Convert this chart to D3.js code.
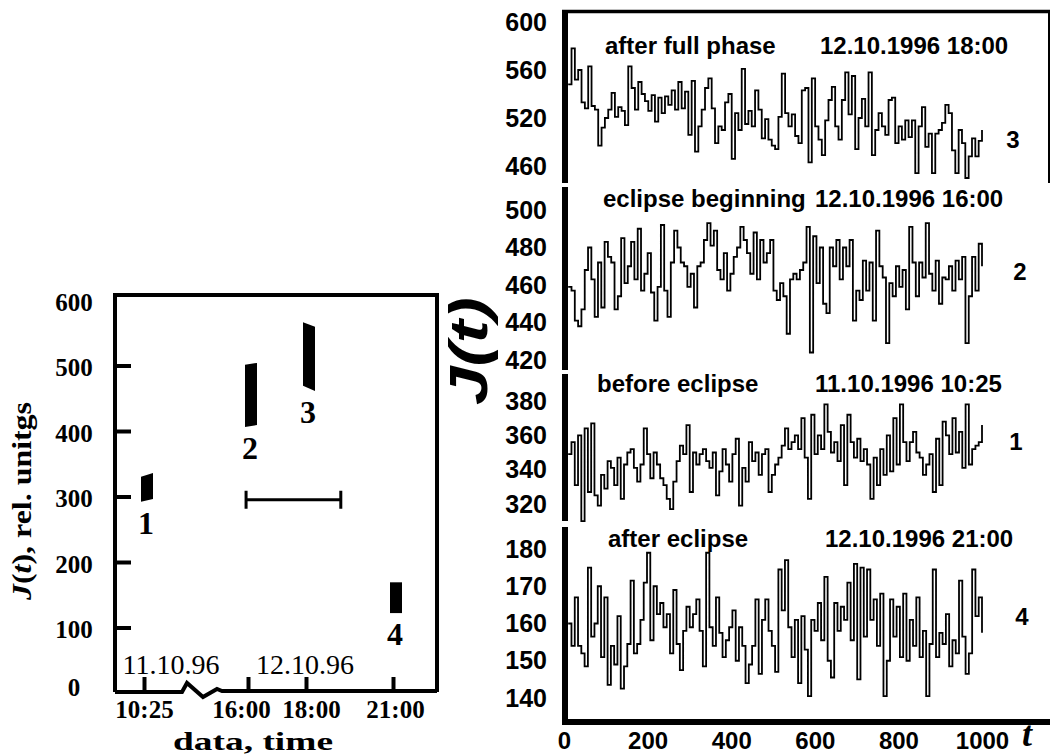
<!DOCTYPE html>
<html>
<head>
<meta charset="utf-8">
<script src="https://cdn.jsdelivr.net/npm/d3@7"></script>
<style>
  html, body { margin: 0; padding: 0; background: #fff; }
  svg { display: block; }
</style>
</head>
<body>
<svg id="chart" width="1050" height="756"></svg>
<script>
// ---- left panel: J(t) ranges per session ----
const summaryTimes = [10 + 25 / 60, 40, 42, 45];          // hours from 11.10.96 00:00
const summaryTickLabels = ['10:25', '16:00', '18:00', '21:00'];
const summaryYTicks = [0, 100, 200, 300, 400, 500, 600];
const dateLabels = ['11.10.96', '12.10.96'];
const barIds = ['1', '2', '3', '4'];
const barTimes = [10 + 25 / 60, 40, 42, 45];
const barLeftLow = [292, 406, 469, 122];
const barLeftHigh = [330, 501, 566, 169];
const barRightLow = [296, 409, 461, 122];
const barRightHigh = [336, 504, 559, 169];
const eclipseSpan = [39.45, 43.2];
const eclipseLevel = 295;

// ---- right panel: time series ----
const tTicks = [0, 200, 400, 600, 800, 1000];
const tRange = [10, 1000];

const series3 = [548,578,552,560,533,528,563,530,527,497,512,520,527,541,521,529,526,514,563,545,527,550,540,534,526,539,517,537,524,538,531,543,527,550,528,542,506,551,492,513,527,545,553,528,499,513,510,533,540,486,524,510,561,515,526,513,543,527,503,519,502,497,494,521,557,524,513,523,505,499,543,545,483,553,513,502,489,518,535,546,513,502,535,558,523,555,494,520,536,513,558,489,510,524,513,506,535,537,499,513,502,518,504,518,474,513,529,496,507,474,507,510,516,531,524,493,474,510,499,470,488,503,488,501,510];
const series2 = [459,457,441,438,447,468,480,463,443,472,448,483,475,472,447,454,485,461,470,483,463,490,457,466,477,456,441,459,492,457,443,472,489,480,472,470,459,466,448,470,472,484,493,481,489,468,463,477,457,466,475,480,491,484,477,466,488,463,484,472,477,484,457,452,461,454,434,463,466,463,468,472,491,424,486,461,480,450,445,480,470,484,463,480,470,484,441,457,452,473,457,472,441,489,470,464,429,461,454,470,459,468,447,491,472,454,472,464,493,466,457,473,450,464,463,470,457,473,463,475,429,454,475,457,482,470];
const series1 = [349,356,331,360,310,364,327,367,325,319,337,329,345,341,331,347,323,343,350,352,341,333,343,364,349,335,350,343,335,331,323,317,333,345,354,349,366,327,350,343,349,352,345,341,350,325,339,352,343,333,349,358,319,341,333,356,345,350,337,349,352,327,337,343,347,354,364,352,356,360,352,370,347,323,372,349,360,352,378,362,350,356,345,366,331,372,356,347,358,345,352,343,323,347,331,352,337,360,339,370,343,378,356,345,356,362,350,347,337,343,349,327,358,331,368,360,349,370,350,362,341,378,343,352,354,356,366];
const series4 = [160,154,167,154,152,148.5,175,156.5,160,170,151,167,143.5,154,149,162,142.5,148.5,154.5,171.5,152,154.5,161,171,179,155.5,170,162.5,165.5,159,162.5,152,169,154.5,147.5,158,164.5,159,162.5,166.5,158,148.5,179,159,154,167,157.5,151,155.5,159,163.5,150,159,154,144,149,154,166.5,146.5,161,166.5,158,154,147,174.5,163.5,177,159,151,161,144,162,153,140.5,161,158,165.5,155.5,172.5,150,145.5,165.5,158,164.5,161,171,155.5,176,145,175,156.5,174.5,161,166.5,154,168,140.5,150,166.5,156.5,164.5,151,168,150,161,154,167,151,158,140.5,154.5,174.5,151,157.5,154.5,162.5,148.5,155.5,152,171.5,156.5,146.5,152,174.5,162,167,157.5];

const ticks3 = [600, 560, 520, 480], tickText3 = ['600', '560', '520', '460'];
const ticks2 = [500, 480, 460, 440, 420], tickText2 = ['500', '480', '460', '440', '420'];
const ticks1 = [380, 360, 340, 320], tickText1 = ['380', '360', '340', '320'];
const ticks4 = [180, 170, 160, 150, 140], tickText4 = ['180', '170', '160', '150', '140'];

const SERIF = '"Liberation Serif", "DejaVu Serif", serif';
const SANS = '"Liberation Sans", Arial, sans-serif';

const svg = d3.select('#chart');

// ================= left panel =================
const L = {left: 115, right: 437, top: 295, bottom: 692};
const xL = d3.scaleLinear()
    .domain([summaryTimes[0], summaryTimes[1], summaryTimes[3]])
    .range([144, 248, 393]);
const yL = d3.scaleLinear().domain([0, 600]).range([693, 300]);

// frame (bottom edge drawn with the axis break)
svg.append('path')
    .attr('d', `M${L.left},${L.bottom} V${L.top} H${L.right} V${L.bottom}`)
    .attr('fill', 'none').attr('stroke', '#000').attr('stroke-width', 4);

const brk = (xL(summaryTimes[0]) + xL(summaryTimes[1])) / 2 + 4;
svg.append('path')
    .attr('d', `M${L.left},${L.bottom} H${brk - 18} L${brk - 13},${L.bottom - 9} L${brk + 3},${L.bottom + 5} L${brk + 17},${L.bottom - 3} L${brk + 22},${L.bottom - 1} H${L.right}`)
    .attr('fill', 'none').attr('stroke', '#000').attr('stroke-width', 4).attr('stroke-linejoin', 'miter');

const gyL = svg.append('g')
    .attr('transform', `translate(${L.left},0)`)
    .call(d3.axisLeft(yL).tickValues(summaryYTicks).tickSize(-16).tickFormat(d3.format('d')));
gyL.select('.domain').remove();
gyL.selectAll('.tick line').attr('stroke', '#000').attr('stroke-width', 4)
    .filter(d => d === 0 || d === 600).remove();
gyL.selectAll('.tick text')
    .attr('x', 74 - L.left).attr('text-anchor', 'middle').attr('fill', '#000')
    .attr('dy', d => d === 0 ? '0.1em' : '0.4em')
    .style('font-family', SERIF).style('font-weight', 'bold').style('font-size', '25px');

// small label nudges so 16:00 / 18:00 don't run together
const xLabelShift = [0, -7, 5, 2];
const gxL = svg.append('g')
    .attr('transform', `translate(0,${L.bottom})`)
    .call(d3.axisBottom(xL).tickValues(summaryTimes).tickSize(-15).tickPadding(8)
        .tickFormat((d, i) => summaryTickLabels[i]));
gxL.select('.domain').remove();
gxL.selectAll('.tick line').attr('stroke', '#000').attr('stroke-width', 4);
gxL.selectAll('.tick text').attr('fill', '#000')
    .attr('x', (d, i) => xLabelShift[i])
    .style('font-family', SERIF).style('font-weight', 'bold').style('font-size', '25px');

// date labels above the time axis
svg.selectAll('.date-label')
    .data(dateLabels)
    .join('text')
    .attr('class', 'date-label')
    .attr('x', (d, i) => i === 0 ? 171 : 305)
    .attr('y', 674)
    .attr('text-anchor', 'middle')
    .style('font-family', SERIF).style('font-size', '28px')
    .text(d => d);

// session bars (slightly slanted)
const bars = barIds.map((id, i) => ({
    id, t: barTimes[i],
    ll: barLeftLow[i], lh: barLeftHigh[i], rl: barRightLow[i], rh: barRightHigh[i]
}));
svg.selectAll('.bar')
    .data(bars)
    .join('polygon')
    .attr('class', 'bar')
    .attr('points', d => {
        const c = xL(d.t) + 3;
        return [[c - 6, yL(d.lh)], [c + 6, yL(d.rh)], [c + 6, yL(d.rl)], [c - 6, yL(d.ll)]]
            .map(p => p.join(',')).join(' ');
    })
    .attr('fill', '#000');

svg.selectAll('.bar-label')
    .data(bars)
    .join('text')
    .attr('class', 'bar-label')
    .attr('x', d => xL(d.t) + 2)
    .attr('y', d => yL(Math.min(d.ll, d.rl)) + 32)
    .attr('text-anchor', 'middle')
    .style('font-family', SERIF).style('font-weight', 'bold').style('font-size', '32px')
    .text(d => d.id);

// eclipse span marker
const ey = yL(eclipseLevel);
const ex0 = xL(eclipseSpan[0]), ex1 = xL(eclipseSpan[1]);
svg.append('path')
    .attr('d', `M${ex0},${ey} H${ex1} M${ex0},${ey - 9} V${ey + 9} M${ex1},${ey - 9} V${ey + 9}`)
    .attr('stroke', '#000').attr('stroke-width', 3).attr('fill', 'none');

// axis titles
const yTitle = svg.append('text')
    .attr('transform', 'translate(31,501) rotate(-90)')
    .attr('text-anchor', 'middle')
    .attr('textLength', 198).attr('lengthAdjust', 'spacingAndGlyphs')
    .style('font-family', SERIF).style('font-weight', 'bold').style('font-size', '28px');
yTitle.append('tspan').style('font-style', 'italic').text('J');
yTitle.append('tspan').text('(');
yTitle.append('tspan').style('font-style', 'italic').text('t');
yTitle.append('tspan').text('), rel. unitgs');

svg.append('text')
    .attr('x', 253).attr('y', 750)
    .attr('text-anchor', 'middle')
    .attr('textLength', 160).attr('lengthAdjust', 'spacingAndGlyphs')
    .style('font-family', SERIF).style('font-weight', 'bold').style('font-size', '26px')
    .text('data, time');

// ================= right panel =================
const xR = d3.scaleLinear().domain([0, 1000]).range([564, 982]);
const axisX = 565, bottomY = 722, topY = 11.5, rightX = 1049;

const panels = [
    {id: '3', values: series3, domain: [480, 600], range: [166, 22], ticks: ticks3, tickText: tickText3,
        seg: [10, 183], left: 'after full phase', right: '12.10.1996 18:00', lx: 605, rx: 820, ty: 54, nx: 1013, ny: 148},
    {id: '2', values: series2, domain: [420, 500], range: [360, 210], ticks: ticks2, tickText: tickText2,
        seg: [187, 370], left: 'eclipse beginning', right: '12.10.1996 16:00', lx: 603, rx: 815, ty: 207, nx: 1020, ny: 280},
    {id: '1', values: series1, domain: [320, 380], range: [504, 401], ticks: ticks1, tickText: tickText1,
        seg: [374, 521], left: 'before eclipse', right: '11.10.1996 10:25', lx: 597, rx: 815, ty: 392, nx: 1016, ny: 450},
    {id: '4', values: series4, domain: [140, 180], range: [698, 549], ticks: ticks4, tickText: tickText4,
        seg: [527, 725], left: 'after eclipse', right: '12.10.1996 21:00', lx: 608, rx: 825, ty: 547, nx: 1022, ny: 625}
];

panels.forEach(p => {
    const y = d3.scaleLinear().domain(p.domain).range(p.range);
    const n = p.values.length;
    const tAt = i => tRange[0] + i * (tRange[1] - tRange[0]) / (n - 1);

    const line = d3.line()
        .x((d, i) => xR(tAt(i)))
        .y(d => y(d))
        .curve(d3.curveStepAfter);

    svg.append('path')
        .datum(p.values)
        .attr('d', line)
        .attr('fill', 'none')
        .attr('stroke', '#000')
        .attr('stroke-width', 1.8);

    // axis segment
    svg.append('line')
        .attr('x1', axisX).attr('x2', axisX)
        .attr('y1', p.seg[0]).attr('y2', p.seg[1])
        .attr('stroke', '#000').attr('stroke-width', 6);

    const gy = svg.append('g')
        .attr('transform', `translate(${axisX},0)`)
        .call(d3.axisLeft(y).tickValues(p.ticks).tickSize(0).tickPadding(18)
            .tickFormat((d, i) => p.tickText[i]));
    gy.select('.domain').remove();
    gy.selectAll('.tick text').attr('fill', '#000')
        .style('font-family', SANS).style('font-weight', 'bold').style('font-size', '25px');

    const title = svg.append('g')
        .style('font-family', SANS).style('font-weight', 'bold').style('font-size', '24px');
    title.append('text').attr('x', p.lx).attr('y', p.ty).text(p.left);
    title.append('text').attr('x', p.rx).attr('y', p.ty).text(p.right);

    svg.append('text')
        .attr('x', p.nx).attr('y', p.ny)
        .attr('text-anchor', 'middle')
        .style('font-family', SANS).style('font-weight', 'bold').style('font-size', '24px')
        .text(p.id);
});

// frame lines
svg.append('line')
    .attr('x1', axisX - 3).attr('x2', 1050).attr('y1', topY).attr('y2', topY)
    .attr('stroke', '#000').attr('stroke-width', 3.5);
svg.append('line')
    .attr('x1', rightX).attr('x2', rightX).attr('y1', topY).attr('y2', 183)
    .attr('stroke', '#000').attr('stroke-width', 2);
svg.append('line')
    .attr('x1', axisX - 3).attr('x2', 1050).attr('y1', bottomY).attr('y2', bottomY)
    .attr('stroke', '#000').attr('stroke-width', 6);

const gxR = svg.append('g')
    .attr('transform', `translate(0,${bottomY})`)
    .call(d3.axisBottom(xR).tickValues(tTicks).tickSize(0).tickPadding(10).tickFormat(d3.format('d')));
gxR.select('.domain').remove();
gxR.selectAll('.tick text').attr('fill', '#000')
    .style('font-family', SANS).style('font-weight', 'bold').style('font-size', '24px');

// big axis names
svg.append('text')
    .attr('transform', 'translate(487,351) rotate(-90)')
    .attr('text-anchor', 'middle')
    .attr('textLength', 108).attr('lengthAdjust', 'spacingAndGlyphs')
    .style('font-family', SANS).style('font-weight', 'bold').style('font-style', 'italic')
    .style('font-size', '54px')
    .text('J(t)');

svg.append('text')
    .attr('x', 1022).attr('y', 746)
    .style('font-family', SERIF).style('font-weight', 'bold').style('font-style', 'italic')
    .style('font-size', '36px')
    .text('t');
</script>
</body>
</html>
